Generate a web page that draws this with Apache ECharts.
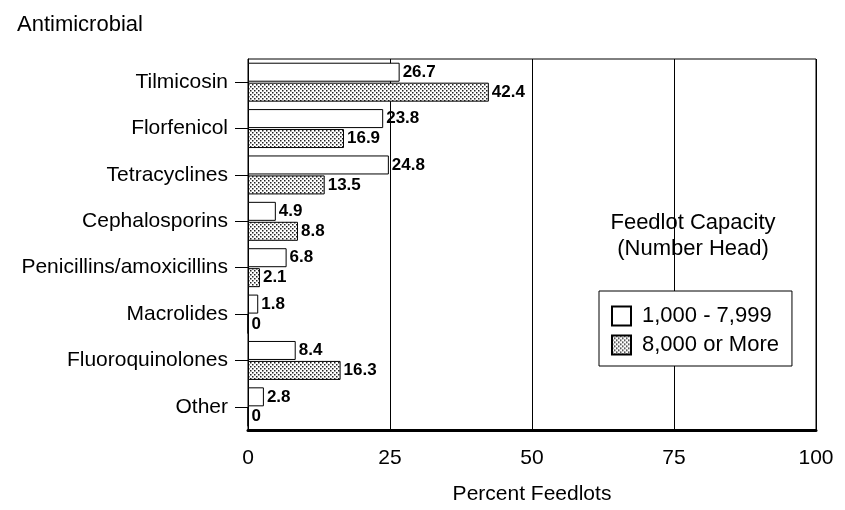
<!DOCTYPE html>
<html>
<head>
<meta charset="UTF-8">
<title>Antimicrobial use by feedlot capacity</title>
<script src="https://cdn.jsdelivr.net/npm/echarts@6.0.0/dist/echarts.min.js"></script>
<style>
    body { margin: 0; padding: 0; background: #fff; }
    #chart { width: 845px; height: 510px; }
</style>
</head>
<body>
<div id="chart"></div>
<script>
    var categories = ['Tilmicosin', 'Florfenicol', 'Tetracyclines', 'Cephalosporins',
        'Penicillins/amoxicillins', 'Macrolides', 'Fluoroquinolones', 'Other'];
    var smallLots = [26.7, 23.8, 24.8, 4.9, 6.8, 1.8, 8.4, 2.8];
    var largeLots = [42.4, 16.9, 13.5, 8.8, 2.1, 0, 16.3, 0];
    var xTicks = [0, 25, 50, 75, 100];

    var font = 'Arial, "Liberation Sans", sans-serif';

    // dotted fill for the large feedlots
    var dots = document.createElement('canvas');
    dots.width = 4; dots.height = 4;
    var ctx = dots.getContext('2d');
    ctx.fillStyle = '#fff';
    ctx.fillRect(0, 0, 4, 4);
    ctx.fillStyle = '#222';
    ctx.fillRect(0, 0, 1.5, 1.5);
    ctx.fillRect(2, 2, 1.5, 1.5);

    var valueLabel = {
        show: true,
        position: 'right',
        distance: 3,
        fontFamily: font,
        fontSize: 17,
        fontWeight: 'bold',
        color: '#000'
    };

    var chart = echarts.init(document.getElementById('chart'));
    chart.setOption({
        animation: false,
        title: [
            { text: 'Antimicrobial', left: 12, top: 9,
              textStyle: { fontFamily: font, fontSize: 22, fontWeight: 'normal', color: '#000' } },
            { text: 'Feedlot Capacity\n(Number Head)', left: 688, top: 205, textAlign: 'center',
              textStyle: { fontFamily: font, fontSize: 22, fontWeight: 'normal', color: '#000', lineHeight: 26 } }
        ],
        legend: {
            orient: 'vertical',
            left: 599,
            top: 291,
            padding: [14, 13, 10, 12],
            itemGap: 7,
            itemWidth: 19,
            itemHeight: 19,
            icon: 'rect',
            backgroundColor: '#fff',
            borderColor: '#000',
            borderWidth: 1,
            textStyle: { fontFamily: font, fontSize: 22, color: '#000', padding: [0, 0, 0, 6] },
            data: ['1,000 - 7,999', '8,000 or More']
        },
        grid: {
            left: 248, right: 29, top: 59, bottom: 74,
            show: true, borderColor: '#000', borderWidth: 1
        },
        xAxis: {
            type: 'value',
            min: 0, max: 100, interval: 25,
            name: 'Percent Feedlots',
            nameLocation: 'middle',
            nameGap: 54,
            nameTextStyle: { fontFamily: font, fontSize: 21, color: '#000' },
            axisLine: { show: true, lineStyle: { color: '#000', width: 3 } },
            axisTick: { show: false },
            axisLabel: {
                margin: 18, fontFamily: font, fontSize: 21, color: '#000',
                formatter: function (v) { return xTicks.indexOf(v) >= 0 ? String(v) : ''; }
            },
            splitLine: { show: true, lineStyle: { color: '#000', width: 1 } }
        },
        yAxis: {
            type: 'category',
            inverse: true,
            data: categories,
            axisLine: { show: true, lineStyle: { color: '#000', width: 1 } },
            axisTick: { show: true, alignWithLabel: true, length: 13, lineStyle: { color: '#000' } },
            axisLabel: { margin: 20, fontFamily: font, fontSize: 21, color: '#000' }
        },
        series: [
            {
                name: '1,000 - 7,999',
                type: 'bar',
                data: smallLots,
                barWidth: 19,
                barGap: '5%',
                itemStyle: { color: '#fff', borderColor: '#000', borderWidth: 1 },
                label: valueLabel
            },
            {
                name: '8,000 or More',
                type: 'bar',
                data: largeLots,
                barWidth: 19,
                itemStyle: { color: { image: dots, repeat: 'repeat' }, borderColor: '#000', borderWidth: 1 },
                label: valueLabel
            }
        ]
    });
</script>
</body>
</html>
